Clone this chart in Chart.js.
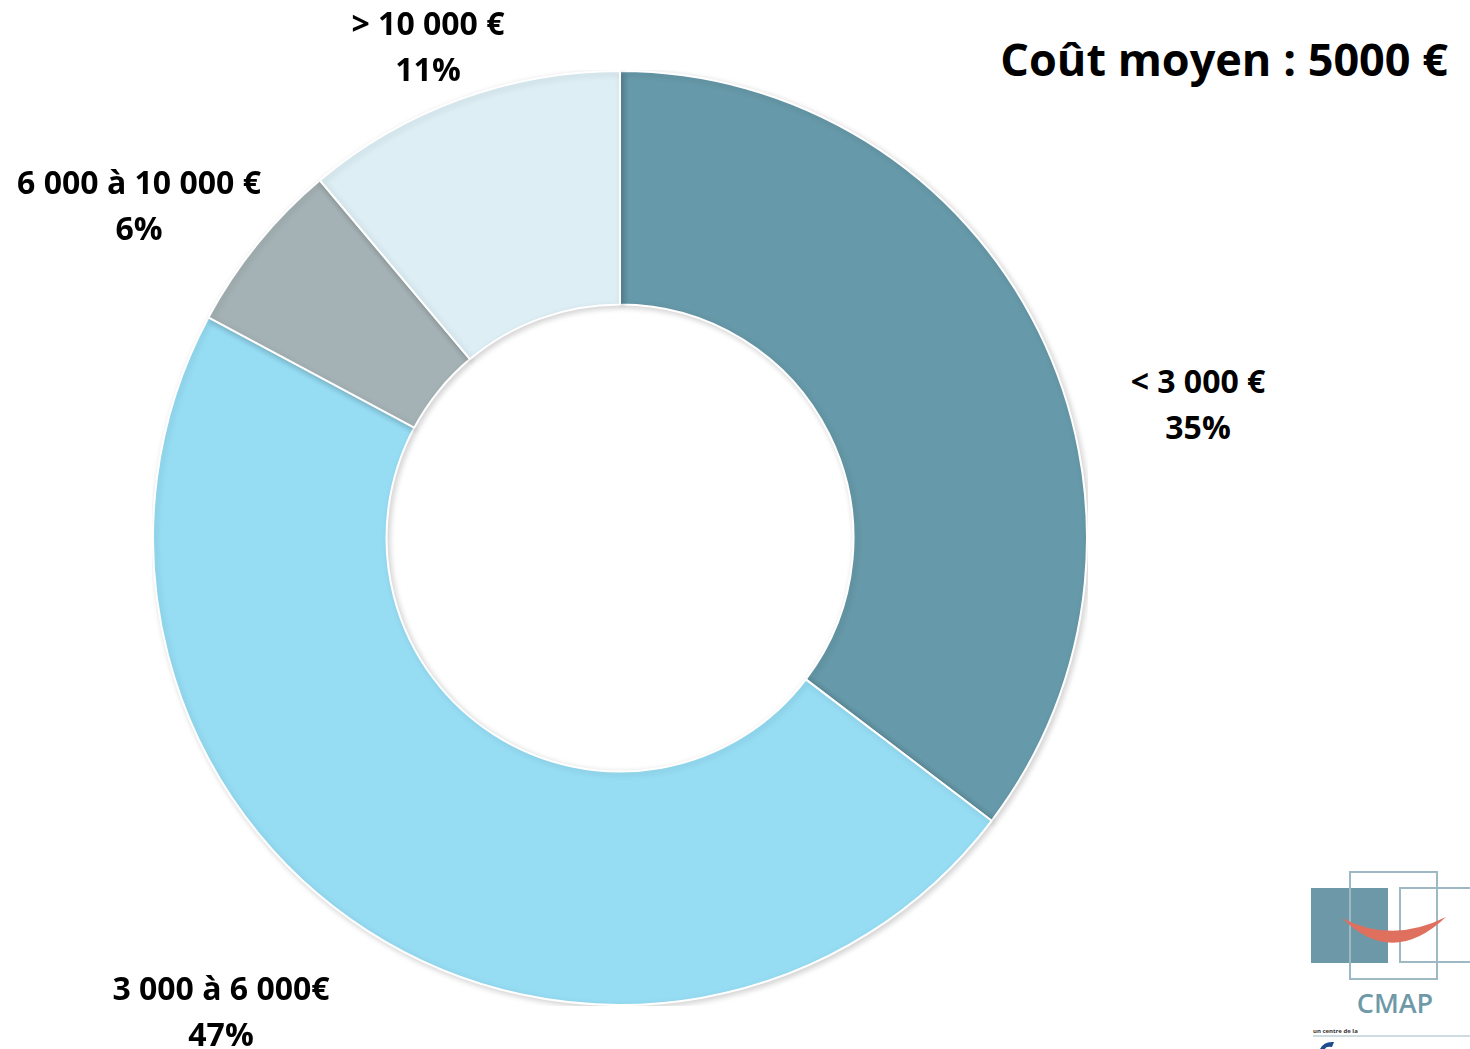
<!DOCTYPE html>
<html lang="fr">
<head>
<meta charset="utf-8">
<title>Coût moyen</title>
<script src="https://cdn.jsdelivr.net/npm/chart.js@4.4.1/dist/chart.umd.min.js"></script>
<style>
    html, body { margin: 0; padding: 0; background: #fff; }
    body { width: 1470px; height: 1049px; position: relative; overflow: hidden; font-family: "Open Sans", sans-serif; }
    #chartBox { position: absolute; left: 152px; top: 70px; width: 936px; height: 936px; }
    .title { position: absolute; right: 22px; top: 28px; font-size: 45px; font-weight: 700; color: #000; white-space: nowrap; }
    .lbl { position: absolute; font-size: 32px; font-weight: 700; color: #000; text-align: center; line-height: 46px; white-space: nowrap; transform: translateX(-50%); }
    #logo { position: absolute; left: 1300px; top: 866px; }
</style>
</head>
<body>
<div class="title">Coût moyen : 5000 €</div>
<div id="chartBox"><canvas id="costChart"></canvas></div>
<div id="labels"></div>
<svg id="logo" width="170" height="183" viewBox="0 0 170 183">
    <rect x="11" y="22" width="77" height="75" fill="#6c98a8"/>
    <rect x="50" y="6" width="87" height="107" fill="none" stroke="#9dbac4" stroke-width="2"/>
    <rect x="100" y="22" width="80" height="74" fill="none" stroke="#9dbac4" stroke-width="2"/>
    <path d="M42 52 Q92 102 146 51 Q92 78 42 52 Z" fill="#e0705e"/>
    <text x="95" y="147" text-anchor="middle" font-family="Open Sans, sans-serif" font-weight="600" font-size="27" fill="#7099a8">CMAP</text>
    <text x="13" y="167" font-family="Open Sans, sans-serif" font-weight="bold" font-size="6" fill="#333">un centre de la</text>
    <line x1="13" y1="170" x2="170" y2="170" stroke="#9dbac4" stroke-width="1"/>
    <path d="M20 183 Q24 175 34 176 L32 181 Q26 180 25 183 Z" fill="#1f4b8f"/>
</svg>
<script>
const categories = ['< 3 000 €', '3 000 à 6 000€', '6 000 à 10 000 €', '> 10 000 €'];
const shares = [35, 47, 6, 11];
const sliceColors = ['#6699a9', '#96ddf4', '#a5b2b5', '#ddeff5'];

// where each outside label sits (centre x, top y)
const labelSpots = [[1198, 358], [221, 965], [139, 159], [428, 0]];

const labelsBox = document.getElementById('labels');
categories.forEach((cat, i) => {
    const div = document.createElement('div');
    div.className = 'lbl';
    div.style.left = labelSpots[i][0] + 'px';
    div.style.top = labelSpots[i][1] + 'px';
    div.innerHTML = `${cat.replace('<', '&lt;').replace('>', '&gt;')}<br>${shares[i]}%`;
    labelsBox.appendChild(div);
});

// soft shadow under the ring, like the original slide
const ringShadow = {
    id: 'ringShadow',
    beforeDatasetsDraw(chart) {
        const ctx = chart.ctx;
        ctx.save();
        ctx.shadowColor = 'rgba(0, 0, 0, 0.18)';
        ctx.shadowBlur = 6;
        ctx.shadowOffsetX = 2;
        ctx.shadowOffsetY = 2;
    },
    afterDatasetsDraw(chart) {
        chart.ctx.restore();
    }
};

new Chart(document.getElementById('costChart'), {
    type: 'doughnut',
    data: {
        labels: categories,
        datasets: [{
            data: shares,
            backgroundColor: sliceColors,
            borderColor: '#ffffff',
            borderWidth: 2,
            hoverOffset: 0,
        }],
    },
    options: {
        responsive: true,
        maintainAspectRatio: false,
        animation: false,
        cutout: '50%',
        layout: { padding: 0 },
        plugins: {
            legend: { display: false },
            tooltip: { enabled: false },
        },
    },
    plugins: [ringShadow],
});
</script>
</body>
</html>
